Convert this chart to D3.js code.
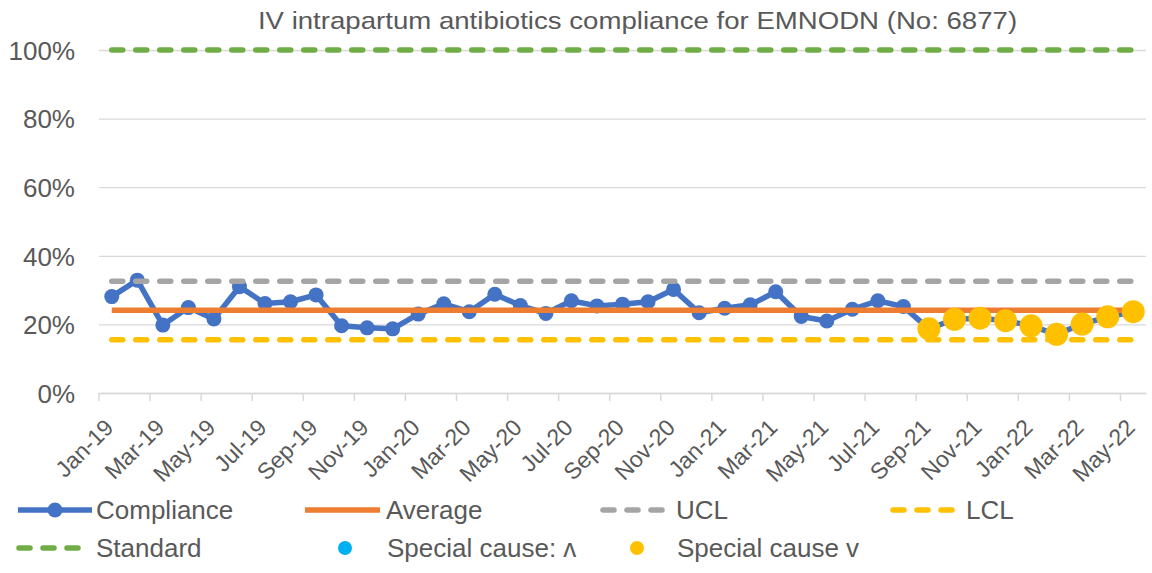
<!DOCTYPE html>
<html>
<head>
<meta charset="utf-8">
<script src="https://d3js.org/d3.v7.min.js"></script>
<style>
  body { margin: 0; background: #fff; }
  text { font-family: "Liberation Sans", Arial, sans-serif; fill: #595959; }
</style>
</head>
<body>
<div id="chart"></div>
<script>
const months = ["Jan-19","Feb-19","Mar-19","Apr-19","May-19","Jun-19","Jul-19","Aug-19","Sep-19","Oct-19","Nov-19","Dec-19",
  "Jan-20","Feb-20","Mar-20","Apr-20","May-20","Jun-20","Jul-20","Aug-20","Sep-20","Oct-20","Nov-20","Dec-20",
  "Jan-21","Feb-21","Mar-21","Apr-21","May-21","Jun-21","Jul-21","Aug-21","Sep-21","Oct-21","Nov-21","Dec-21",
  "Jan-22","Feb-22","Mar-22","Apr-22","May-22"]
const compliance = [28.1, 32.9, 19.8, 24.9, 21.6, 31.0, 26.1, 26.6, 28.6, 19.6, 19.0, 18.7,
  23.0, 26.0, 23.7, 28.8, 25.5, 23.2, 26.9, 25.4, 25.9, 26.6, 30.2, 23.4,
  24.7, 25.7, 29.5, 22.3, 21.0, 24.4, 26.9, 25.2, 18.7, 21.5, 21.8, 21.1,
  19.6, 17.1, 20.1, 22.2, 23.7]
const average = 24.1
const ucl = 32.6
const lcl = 15.5
const standard = 100
// special cause low points (Sep-21 onwards), null = none
const specialLow = [null, null, null, null, null, null, null, null, null, null, null, null,
  null, null, null, null, null, null, null, null, null, null, null, null,
  null, null, null, null, null, null, null, null, 18.7, 21.5, 21.8, 21.1,
  19.6, 17.1, 20.1, 22.2, 23.7]
const specialHigh = months.map(() => null)
const yTicks = [0, 20, 40, 60, 80, 100]
const title = "IV intrapartum antibiotics compliance for EMNODN (No: 6877)"

const width = 1152
const height = 573
const plot = { left: 99, right: 1146, top: 50, bottom: 393 }

const svg = d3.select("#chart").append("svg")
  .attr("width", width).attr("height", height)

const x = d3.scaleBand().domain(months).range([plot.left, plot.right]).padding(0)
const bw = x.bandwidth()
const cx = m => x(m) + bw / 2
const y = d3.scaleLinear().domain([0, 100]).range([plot.bottom, plot.top])

// y axis + gridlines
const yAxis = svg.append("g")
  .attr("transform", "translate(" + plot.left + ",0)")
  .call(d3.axisLeft(y).tickValues(yTicks).tickSizeInner(-(plot.right - plot.left)).tickSizeOuter(0)
    .tickPadding(24).tickFormat(d => d + "%"))
yAxis.select(".domain").remove()
yAxis.selectAll(".tick line").attr("stroke", "#d9d9d9").attr("stroke-width", 1.3)
yAxis.selectAll(".tick text")
  .attr("font-size", 26).attr("dy", "0.36em")
  .style("font-family", "Liberation Sans, Arial, sans-serif").style("fill", "#595959")

// x axis
const xAxis = svg.append("g")
  .attr("transform", "translate(0," + plot.bottom + ")")
  .call(d3.axisBottom(x).tickValues(months.filter((m, i) => i % 2 === 0)).tickSizeInner(8).tickSizeOuter(0).tickPadding(0))
xAxis.select(".domain").attr("stroke", "#d9d9d9").attr("stroke-width", 1.5)
xAxis.selectAll(".tick line").attr("stroke", "#d9d9d9").attr("stroke-width", 1.5)
  .attr("x1", -bw / 2).attr("x2", -bw / 2)
xAxis.selectAll(".tick text")
  .attr("font-size", 23).attr("y", 0).attr("dy", 0)
  .attr("text-anchor", "end")
  .attr("transform", "translate(3,36) rotate(-45)")
  .style("font-family", "Liberation Sans, Arial, sans-serif").style("fill", "#595959")

const line = d3.line().x((d, i) => cx(months[i])).y(d => y(d))
const constLine = v => line(months.map(() => v))

// compliance
svg.append("path").attr("d", line(compliance))
  .attr("fill", "none").attr("stroke", "#4472c4").attr("stroke-width", 5.5).attr("stroke-linejoin", "round")
svg.append("g").selectAll("circle").data(compliance).enter().append("circle")
  .attr("cx", (d, i) => cx(months[i])).attr("cy", d => y(d)).attr("r", 7.5).attr("fill", "#4472c4")

// average
svg.append("path").attr("d", constLine(average))
  .attr("fill", "none").attr("stroke", "#ed7d31").attr("stroke-width", 5.5)

// UCL, LCL, standard
const dashed = (v, color) => svg.append("path").attr("d", constLine(v))
  .attr("fill", "none").attr("stroke", color).attr("stroke-width", 5.5)
  .attr("stroke-dasharray", "11 13").attr("stroke-linecap", "round")
dashed(ucl, "#a5a5a5")
dashed(lcl, "#ffc000")
dashed(standard, "#70ad47")

// special causes
svg.append("g").selectAll("circle").data(specialHigh.map((v, i) => [v, i]).filter(d => d[0] != null))
  .enter().append("circle")
  .attr("cx", d => cx(months[d[1]])).attr("cy", d => y(d[0])).attr("r", 11.5).attr("fill", "#00b0f0")
svg.append("g").selectAll("circle").data(specialLow.map((v, i) => [v, i]).filter(d => d[0] != null))
  .enter().append("circle")
  .attr("cx", d => cx(months[d[1]])).attr("cy", d => y(d[0])).attr("r", 11.5).attr("fill", "#ffc000")

// title
svg.append("text").attr("transform", "translate(637.5,29) scale(1.15,1)")
  .attr("text-anchor", "middle").attr("font-size", 24).text(title)

// legend
const legend = svg.append("g")
const legendText = (tx, ty, label) => legend.append("text")
  .attr("x", tx).attr("y", ty + 9)
  .attr("font-size", 26).text(label)
const legendLine = (x1, x2, ly, color, dash) => {
  const p = legend.append("line").attr("x1", x1).attr("x2", x2).attr("y1", ly).attr("y2", ly)
    .attr("stroke", color).attr("stroke-width", 5.5)
  if (dash) p.attr("stroke-dasharray", "11 13").attr("stroke-linecap", "round").attr("x1", x1 + 3)
  return p
}
const r1 = 510, r2 = 548
legendLine(18, 92, r1, "#4472c4", false)
legend.append("circle").attr("cx", 55).attr("cy", r1).attr("r", 7.5).attr("fill", "#4472c4")
legendText(96, r1, "Compliance")
legendLine(305, 380, r1, "#ed7d31", false)
legendText(386, r1, "Average")
legendLine(600, 668, r1, "#a5a5a5", true)
legendText(676, r1, "UCL")
legendLine(890, 958, r1, "#ffc000", true)
legendText(966, r1, "LCL")
legendLine(16, 84, r2, "#70ad47", true)
legendText(96, r2, "Standard")
legend.append("circle").attr("cx", 345).attr("cy", r2).attr("r", 7).attr("fill", "#00b0f0")
legendText(387, r2, "Special cause: \u028c")
legend.append("circle").attr("cx", 637).attr("cy", r2).attr("r", 7).attr("fill", "#ffc000")
legendText(677, r2, "Special cause v")
</script>
</body>
</html>
